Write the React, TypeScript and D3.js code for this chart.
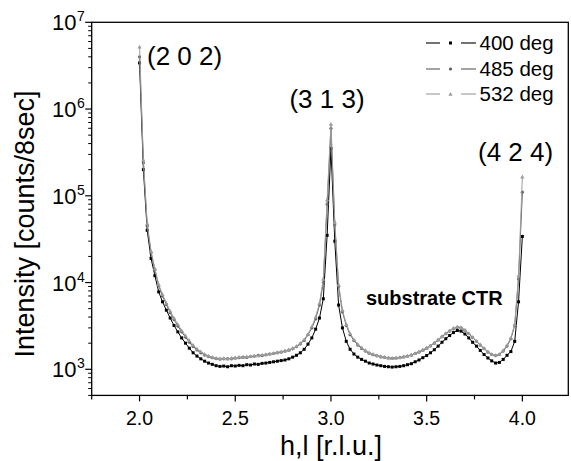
import React from 'react';
import * as d3 from 'd3';

const H = [
  2.00, 2.02, 2.04, 2.06, 2.08, 2.10, 2.12, 2.14, 2.16, 2.18,
  2.20, 2.22, 2.24, 2.26, 2.28, 2.30, 2.32, 2.34, 2.36, 2.38,
  2.40, 2.42, 2.44, 2.46, 2.48, 2.50, 2.52, 2.54, 2.56, 2.58,
  2.60, 2.62, 2.64, 2.66, 2.68, 2.70, 2.72, 2.74, 2.76, 2.78,
  2.80, 2.82, 2.84, 2.86, 2.88, 2.90, 2.92, 2.94, 2.96, 2.98,
  3.00, 3.02, 3.04, 3.06, 3.08, 3.10, 3.12, 3.14, 3.16, 3.18,
  3.20, 3.22, 3.24, 3.26, 3.28, 3.30, 3.32, 3.34, 3.36, 3.38,
  3.40, 3.42, 3.44, 3.46, 3.48, 3.50, 3.52, 3.54, 3.56, 3.58,
  3.60, 3.62, 3.64, 3.66, 3.68, 3.70, 3.72, 3.74, 3.76, 3.78,
  3.80, 3.82, 3.84, 3.86, 3.88, 3.90, 3.92, 3.94, 3.96, 3.98,
  4.00,
];

const I400 = [
  3.4e6, 2.0e5, 4.0e4, 1.9e4, 1.2e4, 7800, 6000, 4800, 3900, 3200,
  2700, 2300, 2000, 1750, 1550, 1420, 1320, 1240, 1180, 1140,
  1100, 1080, 1090, 1070, 1100, 1090, 1110, 1100, 1130, 1120,
  1150, 1140, 1170, 1180, 1200, 1220, 1240, 1260, 1280, 1320,
  1380, 1450, 1550, 1700, 1950, 2300, 2900, 3900, 6500, 35000,
  350000, 30000, 5500, 3000, 2100, 1700, 1500, 1380, 1300, 1240,
  1180, 1150, 1120, 1100, 1080, 1070, 1060, 1070, 1080, 1100,
  1130, 1160, 1220, 1280, 1360, 1440, 1550, 1680, 1850, 2050,
  2250, 2450, 2650, 2800, 2750, 2550, 2300, 2050, 1850, 1650,
  1480, 1350, 1250, 1180, 1200, 1300, 1450, 1600, 2100, 6000,
  34000,
];

const I485 = [
  4.0e6, 2.4e5, 4.5e4, 2.2e4, 1.4e4, 9200, 7000, 5600, 4500, 3750,
  3150, 2700, 2350, 2050, 1830, 1670, 1550, 1460, 1400, 1360,
  1330, 1310, 1320, 1330, 1320, 1350, 1360, 1380, 1370, 1400,
  1420, 1450, 1440, 1470, 1500, 1520, 1550, 1580, 1620, 1660,
  1720, 1820, 1960, 2150, 2500, 3000, 3800, 5500, 10000, 80000,
  600000, 46000, 9000, 4600, 3200, 2500, 2150, 1900, 1740, 1620,
  1530, 1470, 1430, 1390, 1370, 1350, 1340, 1350, 1360, 1390,
  1420, 1460, 1520, 1580, 1660, 1750, 1860, 2000, 2170, 2370,
  2570, 2760, 2930, 3050, 3000, 2820, 2570, 2320, 2100, 1900,
  1730, 1580, 1480, 1440, 1480, 1620, 1850, 2250, 3200, 11000,
  110000,
];

const I532 = [
  5.2e6, 2.6e5, 4.8e4, 2.3e4, 1.45e4, 9500, 7300, 5800, 4700, 3900,
  3300, 2800, 2450, 2150, 1900, 1720, 1600, 1500, 1430, 1380,
  1350, 1330, 1340, 1320, 1350, 1360, 1380, 1370, 1400, 1410,
  1430, 1440, 1470, 1480, 1510, 1540, 1570, 1600, 1630, 1680,
  1750, 1850, 2000, 2200, 2550, 3100, 4000, 5800, 11000, 90000,
  670000, 50000, 9500, 4800, 3300, 2600, 2200, 1950, 1780, 1650,
  1560, 1500, 1450, 1410, 1380, 1360, 1350, 1360, 1370, 1400,
  1430, 1470, 1530, 1600, 1680, 1770, 1880, 2020, 2200, 2400,
  2600, 2800, 2980, 3100, 3050, 2850, 2600, 2350, 2120, 1920,
  1750, 1600, 1500, 1460, 1500, 1650, 1900, 2300, 3300, 12000,
  166000,
];

const SERIES_NAMES = ['400 deg', '485 deg', '532 deg'];
const X_MAJOR = [2.0, 2.5, 3.0, 3.5, 4.0];
const X_MINOR = [1.75, 2.25, 2.75, 3.25, 3.75];
const Y_DECADES = [3, 4, 5, 6, 7];
const PEAK_LABELS = ['(2 0 2)', '(3 1 3)', '(4 2 4)'];

const FONT = "'Liberation Sans', Arial, Helvetica, sans-serif";

export default function App() {
  const x = d3.scaleLinear().domain([1.75, 4.24]).range([91.7, 568.3]);
  const y = d3.scaleLog().domain([500, 1e7]).range([395.4, 22.3]);
  const L = 91.7, R = 568.3, T = 22.3, B = 395.4;

  const series = [
    { name: SERIES_NAMES[0], values: I400, color: '#000000', shape: 'square' },
    { name: SERIES_NAMES[1], values: I485, color: '#5c5c5c', shape: 'circle' },
    { name: SERIES_NAMES[2], values: I532, color: '#9c9c9c', shape: 'triangle' },
  ];

  const line = d3.line<number>()
    .x((_, i) => x(H[i]))
    .y((d) => y(d));

  const minorY: number[] = [];
  for (let k = 2; k <= 6; k++) {
    for (let m = 2; m <= 9; m++) {
      const v = m * Math.pow(10, k);
      if (v >= 500 && v < 1e7) minorY.push(v);
    }
  }

  const marker = (shape: string, cx: number, cy: number, color: string, key: any) => {
    if (shape === 'square') {
      return <rect key={key} x={cx - 1.5} y={cy - 1.5} width={3} height={3} fill={color} />;
    }
    if (shape === 'circle') {
      return <circle key={key} cx={cx} cy={cy} r={1.6} fill={color} />;
    }
    const s = 2.1;
    return (
      <path key={key} d={`M${cx},${cy - s}L${cx + s},${cy + s * 0.8}L${cx - s},${cy + s * 0.8}Z`} fill={color} />
    );
  };

  const legendRows = [43, 69, 94];

  return (
    <svg width={571} height={461} style={{ position: 'absolute', left: 0, top: 0, background: '#fff' }} fontFamily={FONT}>
      <rect x={0} y={0} width={571} height={461} fill="#fff" />
      {series.map((s, si) => (
        <g key={si}>
          <path d={line(s.values) || ''} fill="none" stroke={s.color} strokeWidth={1} />
          {s.values.map((v, i) => marker(s.shape, x(H[i]), y(v), s.color, i))}
        </g>
      ))}
      <rect x={L} y={T} width={R - L} height={B - T} fill="none" stroke="#000" strokeWidth={1.3} />
      {X_MAJOR.map((t) => (
        <g key={'xm' + t}>
          <line x1={x(t)} x2={x(t)} y1={B} y2={B + 6} stroke="#000" strokeWidth={1.2} />
          <text x={x(t)} y={425} fontSize={19.5} textAnchor="middle">{t.toFixed(1)}</text>
        </g>
      ))}
      {X_MINOR.map((t) => (
        <line key={'xn' + t} x1={x(t)} x2={x(t)} y1={B} y2={B + 4} stroke="#000" strokeWidth={1.2} />
      ))}
      {Y_DECADES.map((k) => {
        const yy = y(Math.pow(10, k));
        return (
          <g key={'yd' + k}>
            <line x1={L - 6.5} x2={L} y1={yy} y2={yy} stroke="#000" strokeWidth={1.2} />
            <text x={76.5} y={yy + 8} fontSize={22} textAnchor="end">10</text>
            <text x={77} y={yy - 1} fontSize={14}>{k}</text>
          </g>
        );
      })}
      {minorY.map((v) => (
        <line key={'yn' + v} x1={L - 3.5} x2={L} y1={y(v)} y2={y(v)} stroke="#000" strokeWidth={1} />
      ))}
      <text x={331} y={455} fontSize={27} textAnchor="middle">h,l [r.l.u.]</text>
      <text transform="translate(34,224) rotate(-90)" fontSize={27} textAnchor="middle">Intensity [counts/8sec]</text>
      <text x={147} y={65} fontSize={26}>{PEAK_LABELS[0]}</text>
      <text x={327} y={108} fontSize={26} textAnchor="middle">{PEAK_LABELS[1]}</text>
      <text x={478} y={161} fontSize={26}>{PEAK_LABELS[2]}</text>
      <text x={366} y={305} fontSize={20} fontWeight="bold">substrate CTR</text>
      {series.map((s, si) => {
        const ly = legendRows[si];
        return (
          <g key={'lg' + si}>
            <line x1={426} x2={440} y1={ly} y2={ly} stroke={s.color} strokeWidth={1.1} />
            <line x1={461} x2={476} y1={ly} y2={ly} stroke={s.color} strokeWidth={1.1} />
            {marker(s.shape, 450.5, ly, s.color, 'm')}
            <text x={479.5} y={ly + 7} fontSize={20.5}>{s.name}</text>
          </g>
        );
      })}
    </svg>
  );
}
